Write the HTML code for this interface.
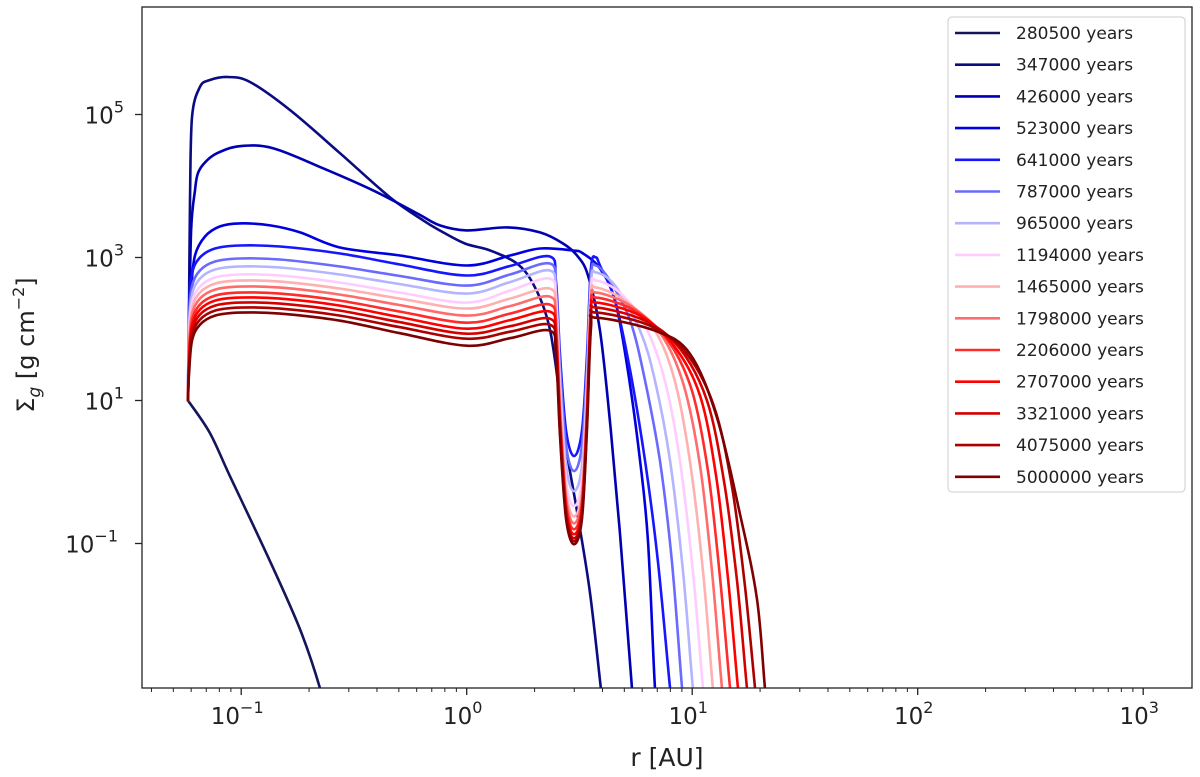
<!DOCTYPE html>
<html><head><meta charset="utf-8">
<style>
html,body{margin:0;padding:0;background:#fff;}
svg{display:block;font-family:"DejaVu Sans","Liberation Sans",sans-serif;}
</style></head>
<body>
<svg id="chart" width="1200" height="777" viewBox="0 0 1200 777" xmlns="http://www.w3.org/2000/svg">
<defs><clipPath id="plotClip"><rect x="142" y="7" width="1050" height="681"/></clipPath></defs>
<g id="ticks"></g>
<g id="lines" clip-path="url(#plotClip)"></g>
<rect x="142" y="7" width="1050" height="681" fill="none" stroke="#222" stroke-width="1.3"/>
<text x="667" y="766" text-anchor="middle" font-size="25" fill="#222">r [AU]</text>
<text transform="translate(34,345) rotate(-90)" text-anchor="middle" font-size="24" fill="#222">Σ<tspan font-size="17" dy="6" font-style="italic">g</tspan><tspan dy="-6"> [g cm</tspan><tspan font-size="16" dy="-10">−2</tspan><tspan dy="10">]</tspan></text>
<g id="legend"></g>
</svg>
<script>
const labels = ["280500 years","347000 years","426000 years","523000 years","641000 years","787000 years","965000 years","1194000 years","1465000 years","1798000 years","2206000 years","2707000 years","3321000 years","4075000 years","5000000 years"];
const colors = ["#15155a","#0b0b82","#0000b2","#0000de","#1616ff","#6a6aff","#b4b4ff","#ffccff","#ffb0b0","#ff6c6c","#ff2c2c","#ff0000","#d40000","#aa0000","#7f0000"];
const xTickPowers = [-1,0,1,2,3];
const yTickPowers = [5,3,1,-1];
const innerGrid = [-1.236,-1.231,-1.218,-1.183,-1.116,-1.006,-0.828,-0.562,-0.296,0,0.192,0.369,0.396,0.414,0.441,0.476,0.511,0.533,0.551,0.573];
const logR = [
 [-1.236,-1.139,-1.050,-0.872,-0.739,-0.650,-0.637],
 [-1.236,-1.231,-1.227,-1.218,-1.183,-1.139,-1.059,-0.961,-0.783,-0.562,-0.340,-0.193,-0.119,-0.008,0.104,0.223,0.294,0.356,0.392,0.436,0.489,0.546,0.595,0.613],
 [-1.236,-1.231,-1.222,-1.205,-1.192,-1.160,-1.107,-1.006,-0.859,-0.637,-0.416,-0.220,-0.119,0,0.179,0.325,0.427,0.489,0.538,0.591,0.635,0.679,0.733,0.751],
 [-1.236,-1.231,-1.222,-1.205,-1.160,-1.094,-1.006,-0.872,-0.739,-0.562,-0.296,0,0.192,0.325,0.471,0.516,0.591,0.658,0.715,0.769,0.804,0.835,0.854],
 innerGrid.concat([0.591,0.658,0.725,0.791,0.848,0.902,0.920]),
 innerGrid.concat([0.635,0.725,0.791,0.857,0.910,0.955,0.972]),
 innerGrid.concat([0.658,0.769,0.835,0.902,0.959,1.003,1.022]),
 innerGrid.concat([0.679,0.791,0.879,0.946,1.003,1.048,1.066]),
 innerGrid.concat([0.702,0.835,0.923,0.990,1.048,1.092,1.110]),
 innerGrid.concat([0.725,0.866,0.963,1.035,1.088,1.132,1.150]),
 innerGrid.concat([0.746,0.893,0.999,1.070,1.123,1.168,1.186]),
 innerGrid.concat([0.769,0.919,1.035,1.106,1.159,1.203,1.220]),
 innerGrid.concat([0.791,0.946,1.066,1.141,1.199,1.243,1.260]),
 innerGrid.concat([0.813,0.972,1.096,1.176,1.234,1.279,1.296]),
 innerGrid.concat([0.835,0.990,1.110,1.212,1.287,1.323,1.340])
];
const logSigma = [
 [1.0,0.546,-0.057,-1.250,-2.203,-3.03,-3.3],
 [1.0,2.397,3.799,4.963,5.384,5.482,5.524,5.454,5.062,4.459,3.841,3.519,3.378,3.196,3.098,2.916,2.635,2.158,1.555,0.433,-0.548,-1.670,-3.03,-3.5],
 [1.0,1.976,3.379,3.940,4.178,4.332,4.459,4.557,4.529,4.248,3.940,3.617,3.449,3.379,3.421,3.351,3.196,3.028,2.748,1.976,0.714,-0.829,-3.03,-3.5],
 [1.0,1.836,2.537,3.028,3.295,3.435,3.477,3.449,3.351,3.140,3.028,2.888,3.028,3.126,3.098,3.056,2.846,2.397,1.415,0.153,-0.969,-3.03,-3.5],
 [1.0,2.327,2.776,3.0,3.126,3.168,3.154,3.056,2.902,2.748,2.881,3.014,2.663,1.619,0.574,0.223,0.574,1.612,2.860,3.0, 2.888,2.397,1.415,0.153,-1.250,-3.03,-3.5],
 [1.0,2.144,2.593,2.818,2.944,2.986,2.972,2.874,2.741,2.607,2.762,2.916,2.565,1.464,0.363,0.012,0.363,1.450,2.748,2.888, 2.677,2.116,1.275,0.153,-1.250,-3.03,-3.5],
 [1.0,2.032,2.481,2.705,2.832,2.874,2.860,2.762,2.628,2.495,2.656,2.818,2.467,1.275,0.083,-0.268,0.083,1.261,2.649,2.790, 2.607,1.976,1.275,0.153,-1.390,-3.03,-3.5],
 [1.0,1.920,2.369,2.593,2.720,2.762,2.748,2.649,2.509,2.369,2.537,2.705,2.355,1.114,-0.128,-0.478,-0.128,1.100,2.537,2.677, 2.509,2.046,1.275,0.153,-1.390,-3.03,-3.5],
 [1.0,1.836,2.285,2.509,2.635,2.677,2.663,2.565,2.425,2.285,2.425,2.565,2.215,0.973,-0.268,-0.619,-0.268,0.980,2.439,2.579, 2.397,1.976,1.275,0.153,-1.390,-3.03,-3.5],
 [1.0,1.752,2.201,2.425,2.551,2.593,2.579,2.481,2.334,2.187,2.320,2.453,2.102,0.868,-0.366,-0.717,-0.366,0.896,2.369,2.509, 2.327,1.906,1.205,0.083,-1.390,-3.03,-3.5],
 [1.0,1.668,2.116,2.341,2.467,2.509,2.495,2.397,2.243,2.088,2.215,2.341,1.990,0.770,-0.450,-0.801,-0.450,0.819,2.299,2.439, 2.257,1.836,1.135,0.013,-1.460,-3.03,-3.5],
 [1.0,1.598,2.046,2.271,2.397,2.439,2.425,2.327,2.166,2.004,2.124,2.243,1.892,0.686,-0.520,-0.871,-0.520,0.749,2.229,2.369, 2.187,1.766,1.065,-0.057,-1.502,-3.03,-3.5],
 [1.0,1.527,1.976,2.201,2.327,2.369,2.355,2.257,2.095,1.934,2.039,2.144,1.794,0.609,-0.576,-0.927,-0.576,0.686,2.158,2.299, 2.116,1.724,0.994,-0.128,-1.530,-3.03,-3.5],
 [1.0,1.457,1.906,2.130,2.257,2.299,2.285,2.187,2.025,1.864,1.962,2.060,1.710,0.546,-0.618,-0.969,-0.618,0.630,2.088,2.229, 2.046,1.668,0.924,-0.198,-1.600,-3.03,-3.5],
 [1.0,1.387,1.836,2.060,2.187,2.229,2.215,2.116,1.941,1.766,1.871,1.976,1.625,0.482,-0.661,-1.011,-0.661,0.574,2.018,2.158, 1.976,1.654,0.760,-0.590,-1.769,-3.03,-3.5]
];

const NS = "http://www.w3.org/2000/svg";
function xScale(lr){ return 466.7 + 225.5*lr; }
function yScale(ls){ return 257.5 - 71.5*(ls-3); }
function mk(tag, attrs, parent){ const e=document.createElementNS(NS,tag); for(const k in attrs) e.setAttribute(k,attrs[k]); parent.appendChild(e); return e; }
function smoothPath(p){
  let d = 'M'+p[0][0].toFixed(1)+','+p[0][1].toFixed(1);
  for (let i=0;i<p.length-1;i++){
    const p0=p[Math.max(0,i-1)], p1=p[i], p2=p[i+1], p3=p[Math.min(p.length-1,i+2)];
    const c1=[p1[0]+(p2[0]-p0[0])/6, p1[1]+(p2[1]-p0[1])/6];
    const c2=[p2[0]-(p3[0]-p1[0])/6, p2[1]-(p3[1]-p1[1])/6];
    d += ' C'+c1[0].toFixed(1)+','+c1[1].toFixed(1)+' '+c2[0].toFixed(1)+','+c2[1].toFixed(1)+' '+p2[0].toFixed(1)+','+p2[1].toFixed(1);
  }
  return d;
}

const ticks = document.getElementById('ticks');
for (let p=-2; p<=3; p++){
  for (let m=1; m<=9; m++){
    const lr = p + Math.log10(m);
    const x = xScale(lr);
    if (x < 142 || x > 1192) continue;
    const major = m===1;
    const t = mk('line',{x1:x,x2:x,y1:688,y2:688+(major?7:4),stroke:'#222','stroke-width':major?1.3:1},ticks);
    
    
  }
}
xTickPowers.forEach(p=>{
  const x = xScale(p);
  const t = mk('text',{x:x-4,y:724,'text-anchor':'middle','font-size':23,fill:'#222'},ticks);
  
  
  t.innerHTML = '10<tspan font-size="16" dy="-11">'+(p<0?'−'+(-p):p)+'</tspan>';
});
yTickPowers.forEach(p=>{
  const y = yScale(p);
  const l = mk('line',{x1:135,x2:142,y1:y,y2:y,stroke:'#222','stroke-width':1.3},ticks);
  
  
  const t = mk('text',{x:p<0?118:124,y:y+9,'text-anchor':'end','font-size':23,fill:'#222'},ticks);
  
  
  t.innerHTML = '10<tspan font-size="16" dy="-11">'+(p<0?'−'+(-p):p)+'</tspan>';
});

const lines = document.getElementById('lines');
logR.forEach((rs,i)=>{
  const pts = rs.map((lr,j)=> [xScale(lr), yScale(logSigma[i][j])]);
  const pl = mk('path',{d:smoothPath(pts),fill:'none',stroke:colors[i],'stroke-width':2.6,'stroke-linejoin':'round','stroke-linecap':'round'},lines);
  
  
});

const legend = document.getElementById('legend');
const box = mk('rect',{x:948,y:17,width:237,height:475,rx:4,fill:'#fff','fill-opacity':0.9,stroke:'#cccccc','stroke-width':1},legend);


labels.forEach((lab,i)=>{
  const y = 33 + i*31.7;
  const g = mk('g',{},legend);
  
  
  mk('line',{x1:955,x2:1000,y1:y,y2:y,stroke:colors[i],'stroke-width':2.6},g);
  const t = mk('text',{x:1016,y:y+6,'font-size':17,fill:'#222'},g);
  t.textContent = lab;
});
</script>
</body></html>
